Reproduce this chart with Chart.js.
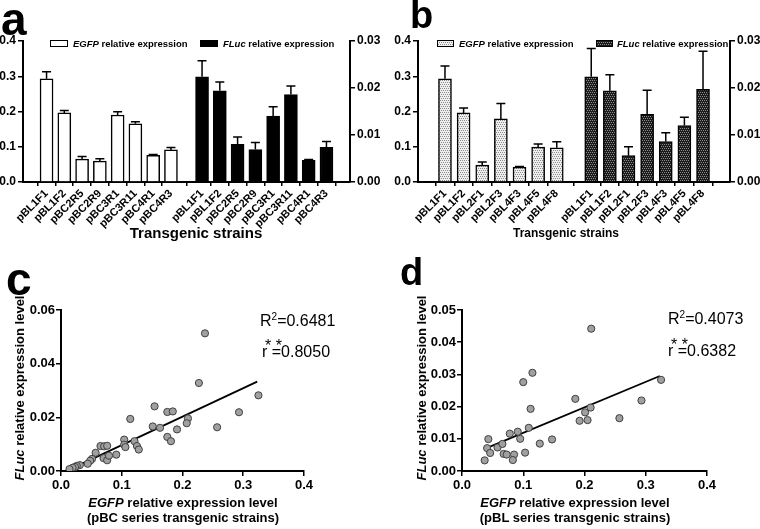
<!DOCTYPE html>
<html>
<head>
<meta charset="utf-8">
<script src="https://cdn.jsdelivr.net/npm/chart.js@4.4.1/dist/chart.umd.min.js"></script>
<style>
  body { margin: 0; background: #fff; }
  #wrap { position: relative; width: 760px; height: 529px; overflow: hidden; font-family: "Liberation Sans", Arial, sans-serif; color: #000; }
  canvas { position: absolute; }
  .t { position: absolute; white-space: nowrap; line-height: 1; }
  .b { font-weight: bold; }
  .letter { font-weight: bold; }
  .ctr { transform: translateX(-50%); }
  .rot { transform: translate(-50%, -50%) rotate(-90deg); }
  .ann { font-size: 16px; }
  .ann sup { font-size: 10px; position: relative; top: -1px; vertical-align: top; }
</style>
</head>
<body>
<div id="wrap">
  <canvas id="chartA" width="380" height="250" style="left:0;top:0"></canvas>
  <canvas id="chartB" width="380" height="250" style="left:380px;top:0"></canvas>
  <canvas id="chartC" width="380" height="279" style="left:0;top:250px"></canvas>
  <canvas id="chartD" width="380" height="279" style="left:380px;top:250px"></canvas>

  <div class="t letter" style="left:1px;top:-4px;font-size:46px">a</div>
  <div class="t letter" style="left:410px;top:-4px;font-size:38px">b</div>
  <div class="t letter" style="left:6px;top:256px;font-size:46px">c</div>
  <div class="t letter" style="left:400px;top:253px;font-size:38px">d</div>

  <div class="t b ctr" style="left:196px;top:225px;font-size:15px">Transgenic strains</div>
  <div class="t b ctr" style="left:566px;top:227px;font-size:12px">Transgenic strains</div>

  <div class="t b rot" style="left:19px;top:388px;font-size:13px"><i>FLuc</i> relative expression level</div>
  <div class="t b rot" style="left:421px;top:388px;font-size:13px"><i>FLuc</i> relative expression level</div>

  <div class="t b ctr" style="left:183px;top:496px;font-size:13px"><i>EGFP</i> relative expression level</div>
  <div class="t b ctr" style="left:183px;top:511px;font-size:13px">(pBC series transgenic strains)</div>
  <div class="t b ctr" style="left:575px;top:496px;font-size:13px"><i>EGFP</i> relative expression level</div>
  <div class="t b ctr" style="left:575px;top:511px;font-size:13px">(pBL series transgenic strains)</div>

  <div class="t ann" style="left:260px;top:313px">R<sup>2</sup>=0.6481</div>
  <div class="t ann" style="left:265px;top:338px">* *</div>
  <div class="t ann" style="left:262px;top:344px">r =0.8050</div>
  <div class="t ann" style="left:668px;top:311px">R<sup>2</sup>=0.4073</div>
  <div class="t ann" style="left:671px;top:337px">* *</div>
  <div class="t ann" style="left:668px;top:343px">r =0.6382</div>
</div>

<script>
// ---- data ----
// panel a (pBC series)
const strainsA = ['pBL1F1', 'pBL1F2', 'pBC2R5', 'pBC2R9', 'pBC3R1', 'pBC3R11', 'pBC4R1', 'pBC4R3'];
const egfpA = [0.293, 0.196, 0.065, 0.059, 0.190, 0.165, 0.076, 0.091];
const egfpAErr = [0.020, 0.007, 0.007, 0.007, 0.009, 0.006, 0.002, 0.007];
const flucA = [0.0224, 0.0194, 0.0080, 0.0069, 0.0140, 0.0186, 0.0046, 0.0074];
const flucAErr = [0.0034, 0.0019, 0.0016, 0.0015, 0.0020, 0.0018, 0.0002, 0.0012];

// panel b (pBL series)
const strainsB = ['pBL1F1', 'pBL1F2', 'pBL2F1', 'pBL2F3', 'pBL4F3', 'pBL4F5', 'pBL4F8'];
const egfpB = [0.293, 0.196, 0.048, 0.179, 0.042, 0.099, 0.097];
const egfpBErr = [0.036, 0.014, 0.009, 0.044, 0.002, 0.009, 0.017];
const flucB = [0.0224, 0.0194, 0.0056, 0.0144, 0.0086, 0.0120, 0.0197];
const flucBErr = [0.0060, 0.0034, 0.0019, 0.0051, 0.0019, 0.0018, 0.0081];

// panel c scatter (pBC series): EGFP vs FLuc
const egfpC = [0.237, 0.227, 0.325, 0.293, 0.257, 0.154, 0.175, 0.184, 0.114, 0.151, 0.163, 0.209, 0.207, 0.191,
  0.175, 0.181, 0.104, 0.104, 0.106, 0.121, 0.125, 0.128, 0.065, 0.071, 0.076, 0.070, 0.076, 0.079, 0.091, 0.057,
  0.051, 0.048, 0.044, 0.031, 0.026, 0.023, 0.019, 0.014];
const flucC = [0.0513, 0.0328, 0.0282, 0.0219, 0.0163, 0.0241, 0.0220, 0.0222, 0.0194, 0.0166, 0.0161, 0.0196, 0.0178, 0.0155,
  0.0127, 0.0111, 0.0117, 0.0098, 0.0089, 0.0111, 0.0093, 0.0080, 0.0093, 0.0092, 0.0094, 0.0048, 0.0040, 0.0057, 0.0061, 0.0068,
  0.0045, 0.0038, 0.0027, 0.0022, 0.0019, 0.0015, 0.0012, 0.0007];
const fitCx = [0.013, 0.323];
const fitCy = [0.0004, 0.0333];

// panel d scatter (pBL series)
const egfpD = [0.211, 0.115, 0.100, 0.325, 0.293, 0.185, 0.112, 0.201, 0.210, 0.192, 0.205, 0.257, 0.109, 0.091,
  0.078, 0.095, 0.147, 0.127, 0.043, 0.041, 0.058, 0.066, 0.046, 0.068, 0.073, 0.085, 0.103, 0.083, 0.037];
const flucD = [0.0442, 0.0305, 0.0276, 0.0283, 0.0219, 0.0224, 0.0193, 0.0182, 0.0197, 0.0156, 0.0158, 0.0164, 0.0134, 0.0122,
  0.0116, 0.0100, 0.0098, 0.0085, 0.0099, 0.0071, 0.0073, 0.0084, 0.0056, 0.0053, 0.0051, 0.0051, 0.0057, 0.0034, 0.0033];
const fitDx = [0.041, 0.323];
const fitDy = [0.0072, 0.0295];

// ---- helpers ----
Chart.defaults.font.family = '"Liberation Sans", Arial, sans-serif';
Chart.defaults.color = '#000';

function dotPattern(bg, dot) {
    const c = document.createElement('canvas');
    c.width = 4; c.height = 4;
    const g = c.getContext('2d');
    g.fillStyle = bg; g.fillRect(0, 0, 4, 4);
    g.fillStyle = dot;
    [[0, 0], [2, 0], [1, 2], [3, 2]].forEach(p => g.fillRect(p[0], p[1], 1, 1));
    return g.createPattern(c, 'repeat');
}

const errorBars = {
    id: 'errorBars',
    afterDatasetsDraw(chart) {
        const ctx = chart.ctx;
        chart.data.datasets.forEach((ds, i) => {
            if (!ds.errors) return;
            const yScale = chart.scales[ds.yAxisID];
            chart.getDatasetMeta(i).data.forEach((bar, j) => {
                const top = yScale.getPixelForValue(ds.data[j].y + ds.errors[j]);
                ctx.save();
                ctx.strokeStyle = '#000';
                ctx.lineWidth = 1.5;
                ctx.beginPath();
                ctx.moveTo(bar.x, bar.y);
                ctx.lineTo(bar.x, top);
                ctx.moveTo(bar.x - 4.5, top);
                ctx.lineTo(bar.x + 4.5, top);
                ctx.stroke();
                ctx.restore();
            });
        });
    }
};

// legend inside the plot, with italic gene names
const boxLegend = {
    id: 'boxLegend',
    afterDraw(chart, args, opts) {
        const ctx = chart.ctx;
        opts.items.forEach(it => {
            ctx.save();
            ctx.fillStyle = it.fill;
            ctx.fillRect(it.x, 40, it.w, 7);
            ctx.strokeStyle = '#000';
            ctx.lineWidth = 1;
            ctx.strokeRect(it.x + 0.5, 40.5, it.w - 1, 6);
            let x = it.tx;
            ctx.fillStyle = '#000';
            ctx.textBaseline = 'alphabetic';
            ctx.font = 'italic bold 9.5px "Liberation Sans", Arial, sans-serif';
            ctx.fillText(it.gene, x, 46.5);
            x += ctx.measureText(it.gene).width;
            ctx.font = 'bold 9.5px "Liberation Sans", Arial, sans-serif';
            ctx.fillText(' relative expression', x, 46.5);
            ctx.restore();
        });
    }
};

function axisY(min, max, step, digits, width, pos) {
    return {
        type: 'linear', position: pos, min: min, max: max,
        afterFit: s => { s.width = width; },
        ticks: { stepSize: step, padding: 2, font: { size: 12, weight: 'bold' }, callback: v => v.toFixed(digits) },
        grid: { drawOnChartArea: false, color: '#000', lineWidth: 1.5, tickLength: 5 },
        border: { color: '#000', width: 2 }
    };
}

function barChart(id, strains, egfp, egfpErr, fluc, flucErr, gap, edge, egfpFill, flucFill, legendItems, yWidth) {
    const posE = strains.map((s, i) => i);
    const posF = strains.map((s, i) => i + strains.length - 1 + gap);
    const ticksAt = posE.concat(posF);
    const labels = strains.concat(strains);
    return new Chart(document.getElementById(id), {
        type: 'bar',
        data: {
            datasets: [{
                data: egfp.map((v, i) => ({ x: posE[i], y: v })),
                errors: egfpErr,
                yAxisID: 'y',
                backgroundColor: egfpFill,
                borderColor: '#000',
                borderWidth: 1.5,
                barThickness: 13,
                grouped: false
            }, {
                data: fluc.map((v, i) => ({ x: posF[i], y: v })),
                errors: flucErr,
                yAxisID: 'y1',
                backgroundColor: flucFill,
                borderColor: '#000',
                borderWidth: 1.5,
                barThickness: 13,
                grouped: false
            }]
        },
        options: {
            responsive: false,
            animation: false,
            devicePixelRatio: 1,
            layout: { padding: { top: 41, left: 0, right: 0, bottom: 0 }, autoPadding: false },
            plugins: { legend: { display: false }, tooltip: { enabled: false }, boxLegend: { items: legendItems } },
            scales: {
                x: {
                    type: 'linear',
                    min: -edge,
                    max: ticksAt[ticksAt.length - 1] + edge,
                    afterFit: s => { s.height = 68; },
                    afterBuildTicks: s => { s.ticks = ticksAt.map(v => ({ value: v })); },
                    ticks: {
                        autoSkip: false, minRotation: 45, maxRotation: 45, padding: 1,
                        font: { size: 11, weight: 'bold' },
                        callback: (v, i) => labels[i]
                    },
                    grid: { drawOnChartArea: false, color: '#000', lineWidth: 1.5, tickLength: 4 },
                    border: { color: '#000', width: 2 }
                },
                y: axisY(0, 0.4, 0.1, 1, yWidth, 'left'),
                y1: axisY(0, 0.03, 0.01, 2, 30, 'right')
            }
        },
        plugins: [errorBars, boxLegend]
    });
}

barChart('chartA', strainsA, egfpA, egfpAErr, flucA, flucAErr, 1.75, 0.75, '#fff', '#000', [
    { x: 50, w: 18, tx: 73, fill: '#fff', gene: 'EGFP' },
    { x: 200, w: 18, tx: 223, fill: '#000', gene: 'FLuc' }
], 23);

const lightDots = dotPattern('#eeeeee', '#8c8c8c');
const darkDots = dotPattern('#1c1c1c', '#8c8c8c');
barChart('chartB', strainsB, egfpB, egfpBErr, flucB, flucBErr, 1.85, 0.85, lightDots, darkDots, [
    { x: 57, w: 17, tx: 79, fill: lightDots, gene: 'EGFP' },
    { x: 216, w: 17, tx: 237, fill: darkDots, gene: 'FLuc' }
], 38);

function scatterChart(id, xs, ys, fx, fy, yMax, yStep, left, right) {
    return new Chart(document.getElementById(id), {
        type: 'scatter',
        data: {
            datasets: [{
                data: xs.map((v, i) => ({ x: v, y: ys[i] })),
                backgroundColor: '#a0a0a0',
                borderColor: '#404040',
                borderWidth: 1,
                pointRadius: 3.6
            }, {
                data: fx.map((v, i) => ({ x: v, y: fy[i] })),
                showLine: true,
                borderColor: '#000',
                borderWidth: 1.8,
                pointRadius: 0
            }]
        },
        options: {
            responsive: false,
            animation: false,
            devicePixelRatio: 1,
            layout: { padding: { top: 60, left: 0, right: right, bottom: 0 }, autoPadding: false },
            plugins: { legend: { display: false }, tooltip: { enabled: false } },
            scales: {
                x: {
                    type: 'linear', min: 0, max: 0.4,
                    afterFit: s => { s.height = 58; },
                    ticks: { stepSize: 0.1, padding: 2, maxRotation: 0, font: { size: 13, weight: 'bold' }, callback: v => v.toFixed(1) },
                    grid: { drawOnChartArea: false, color: '#000', lineWidth: 1.5, tickLength: 5 },
                    border: { color: '#000', width: 2 }
                },
                y: {
                    type: 'linear', min: 0, max: yMax,
                    afterFit: s => { s.width = left; },
                    ticks: { stepSize: yStep, padding: 1, font: { size: 13, weight: 'bold' }, callback: v => v.toFixed(2) },
                    grid: { drawOnChartArea: false, color: '#000', lineWidth: 1.5, tickLength: 5 },
                    border: { color: '#000', width: 2 }
                }
            }
        }
    });
}

scatterChart('chartC', egfpC, flucC, fitCx, fitCy, 0.06, 0.02, 61, 76);
scatterChart('chartD', egfpD, flucD, fitDx, fitDy, 0.05, 0.01, 82, 53);
</script>
</body>
</html>
